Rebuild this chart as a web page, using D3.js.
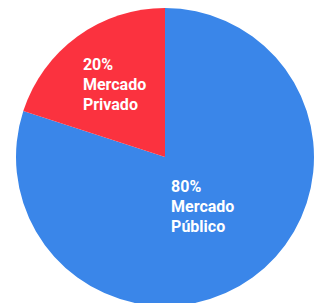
<!DOCTYPE html>
<html>
<head>
<meta charset="utf-8">
<script src="https://cdn.jsdelivr.net/npm/d3@7"></script>
<style>
  body { margin: 0; background: #fff; }
  svg { display: block; }
  .lbl { font-family: Roboto, sans-serif; font-weight: bold; font-size: 16px; fill: #fff; }
</style>
</head>
<body>
<svg id="chart" width="321" height="303"></svg>
<script>
const labels = ['Mercado Público', 'Mercado Privado']
const values = [80, 20]
const colors = ['#3a86e9', '#fb323f']

const svg = d3.select('#chart')
const cx = 165, cy = 157, radius = 149

const pie = d3.pie()
  .sort(null)
  .value(d => d.value)
  .startAngle(0)
  .endAngle(2 * Math.PI)

const data = labels.map((l, i) => ({ name: l, value: values[i], color: colors[i] }))
const total = d3.sum(values)

const arc = d3.arc().innerRadius(0).outerRadius(radius)
const labelArc = d3.arc().innerRadius(75).outerRadius(75)

const g = svg.append('g').attr('transform', `translate(${cx}, ${cy})`)

const slices = g.selectAll('.slice')
  .data(pie(data))
  .enter()
  .append('g')
  .attr('class', 'slice')

slices.append('path')
  .attr('d', arc)
  .attr('fill', d => d.data.color)

slices.each(function (d) {
  const [x, y] = labelArc.centroid(d)
  const lines = [Math.round(d.data.value / total * 100) + '%'].concat(d.data.name.split(' '))
  const t = d3.select(this).append('text')
    .attr('class', 'lbl')
    .attr('transform', `translate(${x - 38}, ${y - 26})`)
  lines.forEach((ln, i) => {
    t.append('tspan')
      .attr('x', 0)
      .attr('y', i * 20)
      .text(ln)
  })
})
</script>
</body>
</html>
